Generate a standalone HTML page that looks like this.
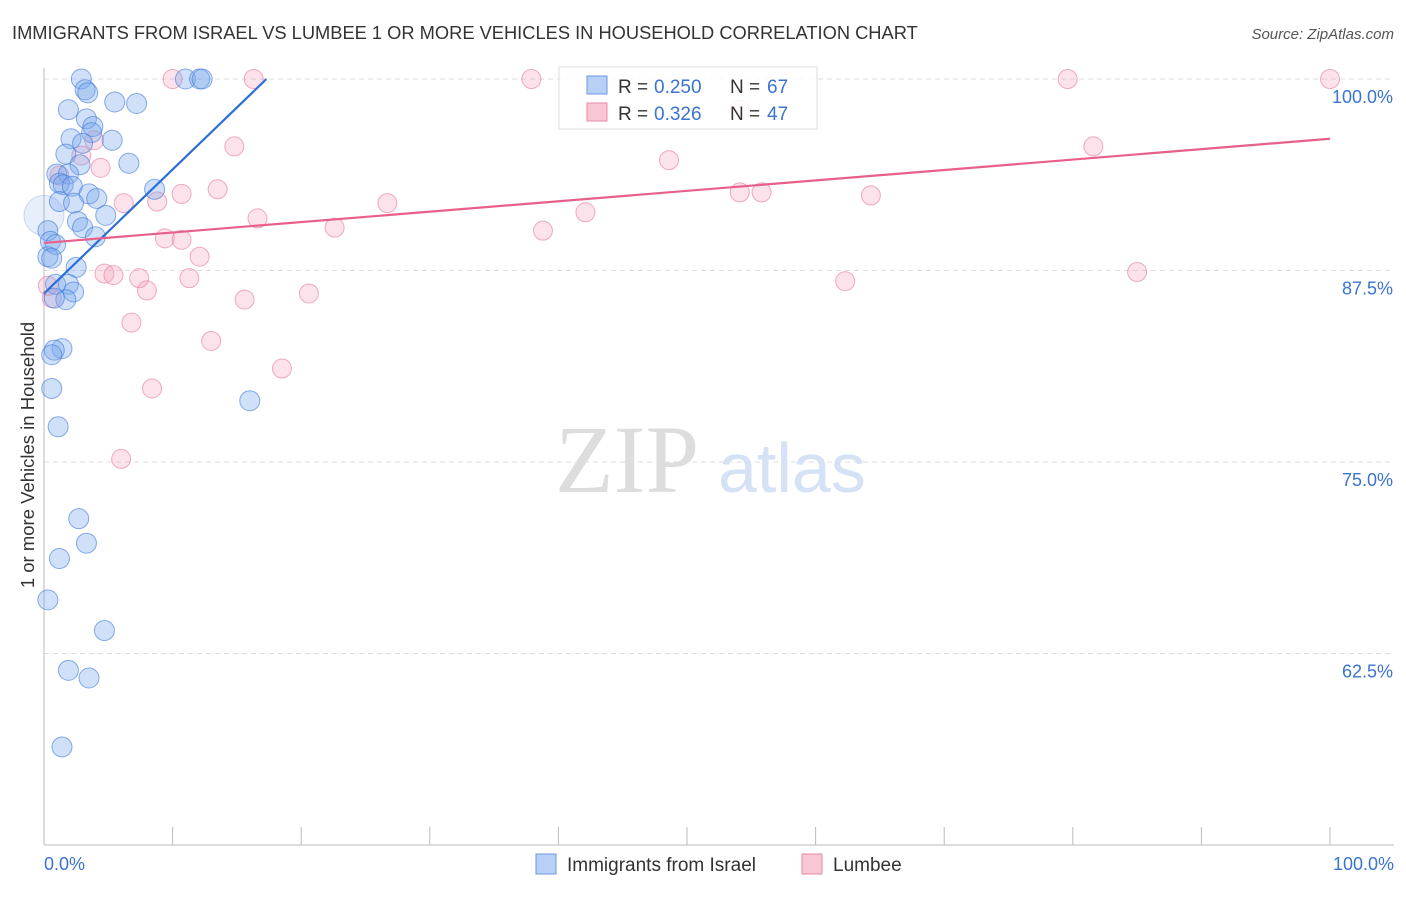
<!DOCTYPE html>
<html><head><meta charset="utf-8"><style>
body{margin:0;background:#fff;font-family:"Liberation Sans",sans-serif;}
</style></head><body>
<svg width="1406" height="892" viewBox="0 0 1406 892" xmlns="http://www.w3.org/2000/svg">
<text x="12" y="39" font-size="18.3" fill="#333">IMMIGRANTS FROM ISRAEL VS LUMBEE 1 OR MORE VEHICLES IN HOUSEHOLD CORRELATION CHART</text>
<text x="1394" y="39" font-size="15" fill="#555" font-style="italic" text-anchor="end">Source: ZipAtlas.com</text>
<g id="grid"></g>
<line x1="44" y1="68" x2="44" y2="845" stroke="#bbb"/>
<line x1="44" y1="845" x2="1394" y2="845" stroke="#bbb"/>
<text x="555" y="492" font-size="96" fill="#ddd" font-family="Liberation Serif,serif">ZIP</text>
<text x="718" y="492" font-size="70" fill="#d5e2f5">atlas</text>
<text transform="translate(34,455) rotate(-90)" font-size="18.5" fill="#333" text-anchor="middle">1 or more Vehicles in Household</text>
<text x="44" y="870" font-size="18" fill="#3b73d1">0.0%</text>
<text x="1394" y="870" font-size="18" fill="#3b73d1" text-anchor="end">100.0%</text>
<g id="ticks"></g>
<g id="pts"></g>
<g id="lines"></g>
<g>
<rect x="559" y="67" width="258" height="62" fill="#fff" fill-opacity="0.85" stroke="#ddd"/>
<rect x="587" y="76" width="20" height="18" fill="#b8d0f5" stroke="#6a9ae0"/>
<rect x="587" y="103" width="20" height="18" fill="#f9c6d4" stroke="#e88aa6"/>
<text x="618" y="93" font-size="19" fill="#333">R =</text>
<text x="654" y="93" font-size="19" fill="#3b73d1">0.250</text>
<text x="730" y="93" font-size="19" fill="#333">N =</text>
<text x="767" y="93" font-size="19" fill="#3b73d1">67</text>
<text x="618" y="120" font-size="19" fill="#333">R =</text>
<text x="654" y="120" font-size="19" fill="#3b73d1">0.326</text>
<text x="730" y="120" font-size="19" fill="#333">N =</text>
<text x="767" y="120" font-size="19" fill="#3b73d1">47</text>
</g>
<g>
<rect x="536" y="854" width="20" height="20" fill="#b8d0f5" stroke="#6a9ae0"/>
<text x="567" y="871" font-size="19" fill="#333">Immigrants from Israel</text>
<rect x="802" y="854" width="20" height="20" fill="#f9c6d4" stroke="#e88aa6"/>
<text x="833" y="871" font-size="19" fill="#333">Lumbee</text>
</g>
</svg>
<script>
const yTicks=[100,87.5,75,62.5];
const yTickLabels=["100.0%","87.5%","75.0%","62.5%"];
const blueX=[2.9,11.0,12.1,12.3,3.2,3.4,5.5,7.2,1.9,3.3,3.8,3.7,2.1,5.3,3.0,1.7,6.6,2.8,1.0,1.9,1.2,1.5,2.2,8.6,3.5,4.1,1.2,2.3,4.8,2.6,3.0,4.0,0.3,0.5,0.9,0.3,0.6,2.5,0.9,1.9,2.3,1.7,0.8,1.4,0.8,0.6,16.0,0.6,1.1,2.7,3.3,1.2,0.3,4.7,1.9,3.5,1.4];
const blueY=[100,100,100,100,99.3,99.1,98.5,98.4,98.0,97.4,96.9,96.5,96.1,96.0,95.8,95.1,94.5,94.4,93.8,93.8,93.2,93.1,93.0,92.8,92.5,92.2,92.0,91.9,91.1,90.7,90.3,89.7,90.1,89.4,89.2,88.4,88.3,87.7,86.6,86.6,86.1,85.6,85.7,82.4,82.3,82.0,79.0,79.8,77.3,71.3,69.7,68.7,66.0,64.0,61.4,60.9,56.4];
const pinkX=[10.0,16.3,37.9,79.6,100,54.1,3.9,14.8,81.6,2.9,48.6,4.4,1.2,13.5,54.1,55.8,10.7,64.3,6.2,8.8,26.7,42.1,16.6,22.6,38.8,9.4,10.7,12.1,85.0,4.7,5.4,7.4,11.3,62.3,8.0,20.6,15.6,0.6,0.3,6.8,13.0,18.5,8.4,6.0];
const pinkY=[100,100,100,100,100,98.0,96.0,95.6,95.6,95.0,94.7,94.2,93.7,92.8,92.6,92.6,92.5,92.4,91.9,92.0,91.9,91.3,90.9,90.3,90.1,89.6,89.5,88.4,87.4,87.3,87.2,87.0,87.0,86.8,86.2,86.0,85.6,85.7,86.5,84.1,82.9,81.1,79.8,75.2];
const blueTrend=[[0,86.0],[17.3,100]];
const pinkTrend=[[0,89.3],[100,96.1]];
const NS="http://www.w3.org/2000/svg";
const sx=v=>44+v*12.86, sy=v=>79+(100-v)*15.32;
function mk(t,a,p){const e=document.createElementNS(NS,t);for(const k in a)e.setAttribute(k,a[k]);p.appendChild(e);return e;}
const grid=document.getElementById('grid'),ticks=document.getElementById('ticks'),pts=document.getElementById('pts'),lines=document.getElementById('lines');
yTicks.forEach((t,i)=>{
 const g=mk('line',{x1:44,x2:1394,y1:sy(t),y2:sy(t),stroke:'#ddd','stroke-dasharray':'5,4'},grid);
 
 
 const l=mk('text',{x:1393,y:sy(t)+24,'font-size':18,fill:'#3b73d1','text-anchor':'end'},ticks);
 l.textContent=yTickLabels[i];
 
 
});
for(let i=1;i<=10;i++){const x=44+i*128.6;const t=mk('line',{x1:x,x2:x,y1:827,y2:845,stroke:'#bbb'},ticks);
 
 }
const big=mk('circle',{cx:sx(0),cy:sy(91.1),r:20,fill:'rgba(120,165,235,0.18)',stroke:'rgba(60,120,220,0.25)'},pts);


pinkX.forEach((x,i)=>{const c=mk('circle',{cx:sx(x),cy:sy(pinkY[i]),r:9.5,fill:'rgba(245,160,185,0.3)',stroke:'rgba(230,120,155,0.6)'},pts);
 
 });
blueX.forEach((x,i)=>{const c=mk('circle',{cx:sx(x),cy:sy(blueY[i]),r:10,fill:'rgba(120,165,235,0.35)',stroke:'rgba(60,120,220,0.6)'},pts);
 
 });
const bl=mk('line',{x1:sx(blueTrend[0][0]),y1:sy(blueTrend[0][1]),x2:sx(blueTrend[1][0]),y2:sy(blueTrend[1][1]),stroke:'#2d6fd6','stroke-width':2.2},lines);


const pl=mk('line',{x1:sx(pinkTrend[0][0]),y1:sy(pinkTrend[0][1]),x2:sx(pinkTrend[1][0]),y2:sy(pinkTrend[1][1]),stroke:'#e8608a','stroke-width':2.2},lines);


</script>
</body></html>
